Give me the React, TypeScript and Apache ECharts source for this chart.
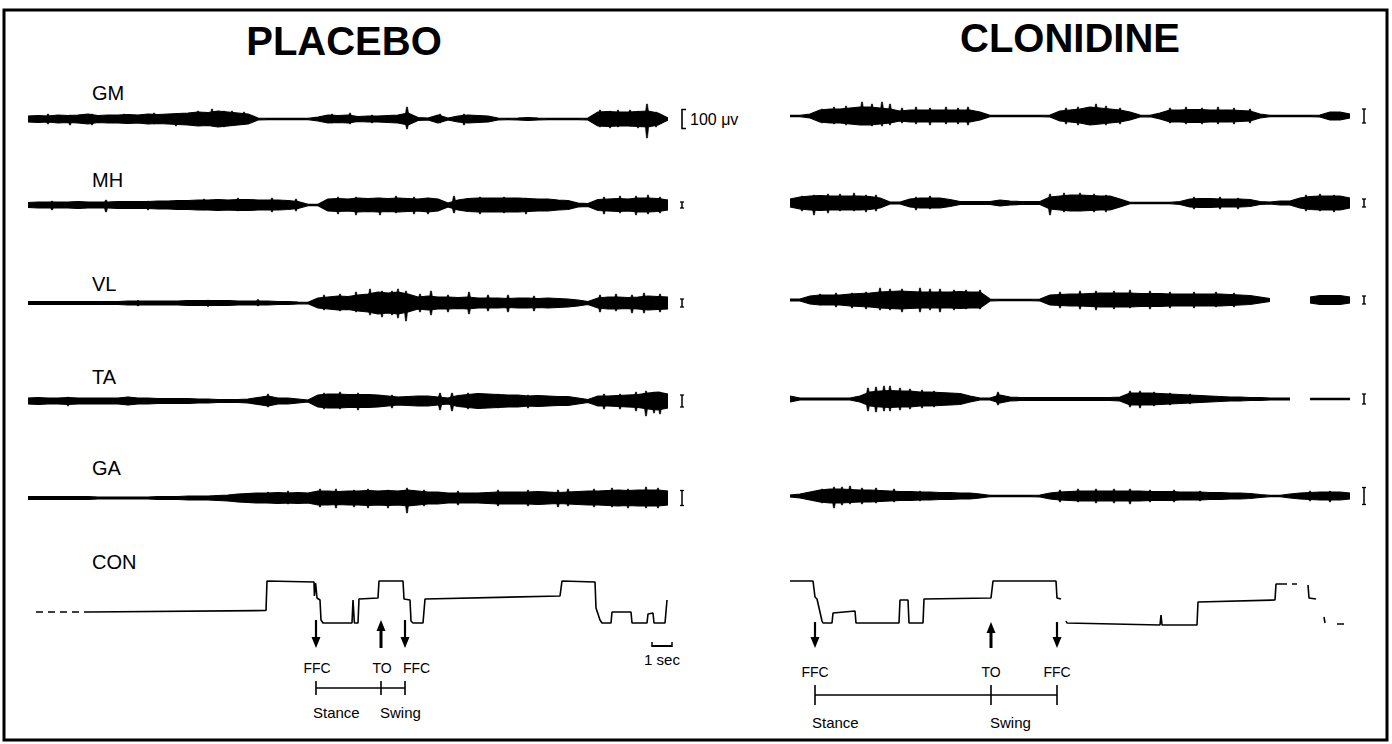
import React, { useEffect, useRef } from "react";
import * as echarts from "echarts";

// ================= DATA =================
// EMG envelopes: half-amplitude (display units), one value every 0.5 s.
const STEP_S = 0.5;
const muscleNames = ["GM", "MH", "VL", "TA", "GA"];

// PLACEBO, 0–32 s
const placeboGM = [3,3.5,3,4,3.5,4,5,3.5,4,4, 4.5,4,5,4.5,5,5.5,6,7,6.5,8, 7,6,5,1,0.6,0.6,0.6,0.6,0.6,2, 4,3.5,4,2.5,3,3,3.5,4,6,1.5, 1,4,1,3,4,3.5,3,1,0.6,1, 1.5,1,0.6,0.6,0.6,0.6,1,7,7.5,7,7,7.5,8,6,1];
const placeboMH = [2.5,3,3,3,3,3.5,3,3,3,3.5, 3.5,3.5,3.5,4,4,4.5,4.5,5,5,5.5, 5,5.5,5.5,5,5,5,4.5,3.5,0.6,0.6, 6,6.5,6,7,6.5,7,6.5,7,6.5,6, 7,6,2,5,6.5,7,7,7,7,7, 6.5,6,6,5,4.5,2,1.5,5.5,6,6.5, 6,7,7,6.5,5];
const placeboVL = [1.5,1.5,1.5,1.5,1.5,1.5,1.5,1.5,1.5,1.5, 2,2,2,2,2,2,2.5,2.5,2.5,2.5, 2.5,2,2,2,2,1.5,1.5,1,0.6,5, 6,7,6.5,8,9,11,10,11,9,6, 7,6,6,5.5,6,5,5,5,4.5,5, 5,4.5,5,4.5,4,3,1.5,5,6,6, 5.5,6,7,6.5,6];
const placeboTA = [3,3.5,3,3,3.5,3,3,3,3,3, 4,3,3,2.5,2.5,2.5,2.5,2,2,1.5, 1.5,1.5,2,3.5,5,3,3,2,1,6, 7,7,6.5,6.5,6.5,6,5,4,4.5,5, 5,4,3,5.5,6.5,7.5,7,6.5,6,6, 5,5.5,5,4.5,4.5,3,1.5,5,5,5.5, 6,6.5,8,9,7];
const placeboGA = [1.5,1.5,1.5,1.5,1.5,1.5,1.5,1,1,1, 1,1,1,1.5,1.5,1.5,2,2,2,2.5, 3,4,4.5,5,5,5.5,5,5.5,5,7, 7,6.5,7,7,7.5,7,7.5,7,8,7, 6,6,5,5,5,5,5.5,6,6,6, 6,6.5,6,5.5,6,6.5,7,7,7.5,8, 7.5,8,8,8,7];

// CLONIDINE, 0–28 s ("-" = trace missing)
const clonidineGM = [0.6,0.6,2,6,7,7,8,9,9,8, 7,5,6,6,6,6,6,6,6,4, 0.6,0.6,0.6,0.6,0.6,0.6,1,5,6,7, 9,8,7,6,4,1,0.6,3,6,6, 6.5,6.5,6,6,6,5.5,5,2,0.6,0.6, 0.6,0.6,0.6,1,4,4,2];
const clonidineMH = [4,6,7,7.5,7,7,7,7,6.5,5, 1,1,4,5,5,5,3.5,1.5,1.5,1.5, 1.5,3,2,1.5,1.5,1.5,6,7,8,8, 7.5,7,7,4,0.6,0.6,0.6,0.6,0.6,1.5, 4,4.5,4.5,4,4,4,3.5,1.5,1,2, 2,5,6.5,7,7,7,5];
const clonidineVL: (number | string)[] = [1,1,4,5,5,5,6,6.5,7,8, 8.5,9,8.5,8,8,8,8,8.5,8,8, 1,0.6,0.6,0.6,0.6,1,5,5.5,6,6, 6.5,7,7,7,7,6.5,6.5,6.5,6,6, 6,6,6,6,5.5,5,4.5,3,1.5,"-", "-","-",3,4.5,4.5,4.5,3];
const clonidineTA: (number | string)[] = [3,1,1,1,1,1,1,3,7,8, 8.5,8,8,7,7,6.5,6,5.5,3,1, 1,4,2,1.5,1.5,1.5,1.5,1.5,1.5,1.5, 1.5,1.5,1.5,2,6,6,6,5.5,5,4.5, 4,3.5,3,2.5,2,2,1.5,1.5,1,1, 1,"-",0.6,0.6,0.6,0.6,0.6];
const clonidineGA = [1,2,4,6,7,7,6.5,6,6,5.5, 5,4.5,4.5,4,4,3.5,3.5,3,3,2, 0.6,0.6,0.6,0.6,0.6,1,3,4,4.5,5, 5,5,5,5,5,5,4.5,4.5,4.5,4, 4,4,3.5,3.5,3,3,2.5,1.5,0.6,0.6, 2,3,3.5,4,4,4,3];

// Spikes: [time s, up, down]
const placeboGMSpikes = [[1.0,5,5],[2.1,4,6],[3.2,5,6],[4.8,5,4],[6.3,6,5],[7.4,5,7],[8.5,8,4],[9.2,10,5],[9.8,8,8],[10.2,8,6],[10.8,7,5],[15.2,5,4],[16.1,6,5],[17.2,4,4],[18.95,12,10],[20.6,5,4],[21.8,5,6],[28.6,9,8],[29.1,8,9],[29.5,9,8],[30.1,9,7],[30.5,8,9],[30.95,15,19],[31.4,7,8]];
const placeboMHSpikes = [[1.2,4,5],[3.9,5,7],[6.0,4,5],[8.8,6,5],[10.5,7,6],[12.2,7,7],[13.4,6,6],[15.5,8,9],[16.4,8,10],[17.6,7,10],[18.4,9,8],[19.3,8,9],[20.0,7,9],[21.3,9,8],[22.6,8,9],[23.8,8,8],[24.9,7,9],[28.8,8,9],[29.6,9,8],[30.4,9,10],[31.0,10,9],[31.6,8,8]];
const placeboVLSpikes = [[5.5,2.5,3],[9.0,3,3.5],[11.5,3.5,3],[14.8,8,7],[15.6,9,8],[16.4,11,9],[17.1,14,12],[17.7,12,14],[18.2,12,12],[18.5,14,15],[18.9,12,18],[19.6,9,9],[20.15,12,12],[21.0,8,9],[22.05,11,11],[23.0,8,8],[24.0,8,9],[25.3,7,8],[28.6,8,9],[29.4,9,8],[30.2,8,10],[30.8,10,10],[31.6,9,9]];
const placeboTASpikes = [[2.0,4,5],[5.0,4,4],[12.0,7,6],[14.8,8,8],[15.6,9,8],[16.5,8,9],[18.2,6,7],[20.6,8,9],[21.2,8,10],[22.0,8,8],[23.5,7,7],[25.0,6,7],[28.8,7,8],[29.6,7,8],[30.4,9,10],[30.9,10,15],[31.3,9,12],[31.6,9,13]];
const placeboGASpikes = [[10.5,3,3],[12.0,6,5],[13.0,7,6],[14.6,9,9],[15.4,9,10],[16.3,8,9],[17.0,9,10],[18.0,8,10],[18.95,10,15],[19.8,8,8],[21.5,7,7],[23.5,8,8],[25.0,8,8],[26.5,8,9],[27.0,9,8],[28.3,9,9],[29.2,10,9],[30.0,9,10],[30.9,11,10],[31.5,10,10]];
const clonidineGMSpikes = [[1.6,7,7],[2.2,9,8],[2.8,10,9],[3.6,14,8],[4.1,12,10],[4.6,14,10],[5.0,12,9],[5.6,8,7],[6.3,9,8],[7.0,8,9],[7.8,9,8],[8.4,8,8],[8.9,9,9],[13.8,8,8],[14.4,9,9],[15.3,12,8],[15.8,10,9],[16.5,8,8],[19.0,8,7],[19.8,9,8],[20.6,8,8],[21.4,9,8],[22.2,8,8],[23.0,7,7]];
const clonidineMHSpikes = [[0.6,7,8],[1.2,8,12],[1.9,9,10],[2.5,9,8],[3.2,10,8],[3.8,8,9],[4.3,8,8],[6.3,6,7],[7.0,7,6],[13.0,9,12],[13.7,10,9],[14.5,10,8],[15.2,9,9],[15.8,8,9],[20.2,6,6],[21.5,6,6],[22.4,5,6],[25.8,8,8],[26.5,9,8],[27.2,8,9]];
const clonidineVLSpikes = [[1.5,6,5],[2.3,7,7],[3.1,7,8],[3.8,8,9],[4.5,12,10],[5.0,11,10],[5.6,11,12],[6.5,12,12],[7.0,11,10],[7.5,11,12],[8.2,10,10],[8.8,10,9],[9.5,10,9],[13.5,8,8],[14.5,9,9],[15.3,9,10],[16.2,9,9],[17.0,10,8],[18.0,9,9],[19.0,8,8],[20.2,8,8],[21.3,8,7],[22.2,7,7]];
const clonidineTASpikes = [[3.9,11,12],[4.3,12,13],[4.7,13,12],[5.0,13,12],[5.5,11,11],[6.0,10,10],[6.6,9,9],[7.2,8,8],[10.4,7,6],[17.0,8,8],[17.5,8,9],[18.2,7,7],[19.0,6,6],[20.0,5,5]];
const clonidineGASpikes = [[1.6,7,7],[2.2,9,12],[2.6,9,9],[3.0,10,8],[3.6,8,8],[4.3,8,7],[5.2,7,6],[6.5,5,5],[13.5,6,6],[14.4,7,6],[15.3,7,7],[16.2,7,7],[17.0,7,8],[18.0,6,6],[19.2,6,6],[20.5,5,5],[26.0,5,5],[27.0,5,6]];

// Calibration bars (full height, display units)
const placeboScaleBars = [19, 6, 8, 12, 15];
const clonidineScaleBars = [14, 8, 8, 10, 17];
const calibrationText = "100 μv";

// Contact (CON) traces: [time s, level]
const placeboConDashed = [[0.4, 11], [3.05, 11]];
const placeboCon: (number | string)[][] = [[3.05,11],[11.9,12.5],[11.95,42],[14.3,41],[14.32,27],[14.38,40],[14.45,25],[14.6,23],[14.65,3],[14.75,0],[16.2,0],[16.25,23],[16.32,0],[16.5,0],[16.55,24],[17.5,25],[17.55,42],[18.75,42],[18.8,24],[19.1,23],[19.15,2],[19.25,0],[19.75,0],[19.85,24],[26.6,27],[26.7,42],[28.35,41],[28.4,15],[28.6,3],[28.7,0],[29.15,0],[29.2,11],[30.15,11],[30.2,0],[30.95,0],[31.0,9],[31.25,10],[31.3,0],[31.85,0],[31.95,23]];
const clonidineCon: (number | string)[][] = [[0,42],[1.15,42],[1.25,26],[1.35,24],[1.6,2],[1.65,0],[2.1,0],[2.15,10],[3.25,12],[3.3,0],[5.45,0],[5.5,23],[5.9,23],[5.95,0],[6.65,0],[6.7,24],[10.05,25],[10.15,42],[13.3,42],[13.35,25],[13.55,24],[13.56,"-"],[13.8,2],[13.85,0],[18.5,-2],[18.55,8],[18.6,-2],[20.35,-2],[20.4,21],[24.25,23],[24.3,39],[24.85,39],[24.86,"-"],[25.1,39],[25.35,39],[25.36,"-"],[25.9,38],[25.95,25],[26.3,24],[26.31,"-"],[26.7,6],[26.75,0],[26.76,"-"],[27.35,-1],[27.7,-1]];

// Gait events (s)
const placeboEventTimes = [14.4, 17.65, 18.85];
const clonidineEventTimes = [1.25, 10.05, 13.35];
const eventNames = ["FFC", "TO", "FFC"];
const phaseNames = ["Stance", "Swing"];
const timeBarSeconds = 1;

// ================= LAYOUT =================
const FONT = '"Liberation Sans", Arial, Helvetica, sans-serif';
const PX_PER_S = 20;

const panels = [
  {
    title: "PLACEBO", titleX: 344, titleY: 41,
    x0: 28, span: 32,
    emg: [placeboGM, placeboMH, placeboVL, placeboTA, placeboGA],
    spikes: [placeboGMSpikes, placeboMHSpikes, placeboVLSpikes, placeboTASpikes, placeboGASpikes],
    bars: placeboScaleBars,
    bases: [119, 205, 303, 401, 498],
    scaleX: 682,
    con: placeboCon, conDashed: placeboConDashed,
    events: placeboEventTimes,
    arrowTop: 620, arrowBot: 648, eventLabelY: 668,
    labelAligns: ["center", "center", "left"], labelOffsets: [1, 1, -2],
    barY: 688, tickHalf: 7, phaseY: 712,
    showLabels: true, showCal: true, secBarStart: 31.2,
  },
  {
    title: "CLONIDINE", titleX: 1070, titleY: 38,
    x0: 790, span: 28,
    emg: [clonidineGM, clonidineMH, clonidineVL, clonidineTA, clonidineGA],
    spikes: [clonidineGMSpikes, clonidineMHSpikes, clonidineVLSpikes, clonidineTASpikes, clonidineGASpikes],
    bars: clonidineScaleBars,
    bases: [116, 203, 300, 399, 496],
    scaleX: 1364,
    con: clonidineCon, conDashed: null as any,
    events: clonidineEventTimes,
    arrowTop: 622, arrowBot: 648, eventLabelY: 672,
    labelAligns: ["center", "center", "center"], labelOffsets: [0, 0, 0],
    barY: 695, tickHalf: 10, phaseY: 722,
    showLabels: false, showCal: false, secBarStart: null as any,
  },
];
const labelX = 92;
const labelYs = [93, 180, 284, 377, 468];
const conLabelY = 562;
const CON_LOW_Y = 623;

function txt(x: number, y: number, text: string, font: string, align = "left") {
  return {
    type: "text", x, y, silent: true,
    style: { text, font, fill: "#000", align, textAlign: align, verticalAlign: "middle", textVerticalAlign: "middle" },
  };
}

function buildOption() {
  const grid: any[] = [];
  const xAxis: any[] = [];
  const yAxis: any[] = [];
  const series: any[] = [];
  const graphic: any[] = [];

  graphic.push({
    type: "rect", silent: true,
    shape: { x: 4, y: 10, width: 1383, height: 730 },
    style: { fill: "none", stroke: "#000", lineWidth: 3 },
  });

  const addGrid = (left: number, top: number, width: number, height: number, xmax: number, ymin: number, ymax: number) => {
    const gi = grid.length;
    grid.push({ left, top, width, height, containLabel: false });
    xAxis.push({ type: "value", gridIndex: gi, min: 0, max: xmax, show: false });
    yAxis.push({ type: "value", gridIndex: gi, min: ymin, max: ymax, show: false });
    return gi;
  };

  panels.forEach((p) => {
    const width = p.span * PX_PER_S;
    graphic.push(txt(p.titleX, p.titleY, p.title, `bold 40px ${FONT}`, "center"));

    p.emg.forEach((amps: any[], k: number) => {
      const base = p.bases[k];
      const gi = addGrid(p.x0, base - 25, width, 50, p.span, -25, 25);
      const upper = amps.map((a, i) => [i * STEP_S, a === "-" ? "-" : a]);
      const lower = amps.map((a, i) => [i * STEP_S, a === "-" ? "-" : -a]);
      const common = {
        type: "line", xAxisIndex: gi, yAxisIndex: gi, showSymbol: false, symbol: "none",
        silent: true, lineStyle: { color: "#000", width: 1.2 },
        areaStyle: { color: "#000", opacity: 1 }, z: 2,
      };
      series.push({ ...common, name: `${p.title} ${muscleNames[k]} +`, data: upper });
      series.push({ ...common, name: `${p.title} ${muscleNames[k]} -`, data: lower });
      series.push({
        type: "custom", xAxisIndex: gi, yAxisIndex: gi, silent: true, clip: false, z: 3,
        data: p.spikes[k],
        renderItem: (params: any, api: any) => {
          const t = api.value(0), up = api.value(1), dn = api.value(2);
          const a = api.coord([t, up]);
          const b = api.coord([t, -dn]);
          const m = api.coord([t, 0]);
          return {
            type: "polygon",
            shape: { points: [[a[0] - 0.5, a[1]], [a[0] + 0.5, a[1]], [m[0] + 2.4, m[1]], [b[0] + 0.5, b[1]], [b[0] - 0.5, b[1]], [m[0] - 2.4, m[1]]] },
            style: { fill: "#000", stroke: "#000", lineWidth: 0.6 },
          };
        },
      });

      // calibration bar
      const h = p.bars[k];
      const x = p.scaleX;
      const y1 = base - h / 2, y2 = base + h / 2;
      if (p.showCal && k === 0) {
        graphic.push({ type: "polyline", silent: true, shape: { points: [[x + 4, y1], [x, y1], [x, y2], [x + 4, y2]] }, style: { stroke: "#000", lineWidth: 1.6, fill: "none" } });
        graphic.push(txt(x + 8, base, calibrationText, `16px ${FONT}`, "left"));
      } else {
        graphic.push({ type: "line", silent: true, shape: { x1: x, y1, x2: x, y2 }, style: { stroke: "#000", lineWidth: 1.5 } });
        graphic.push({ type: "line", silent: true, shape: { x1: x - 2, y1, x2: x + 2, y2: y1 }, style: { stroke: "#000", lineWidth: 1.3 } });
        graphic.push({ type: "line", silent: true, shape: { x1: x - 2, y1: y2, x2: x + 2, y2 }, style: { stroke: "#000", lineWidth: 1.3 } });
      }
      if (p.showLabels) graphic.push(txt(labelX, labelYs[k], muscleNames[k], `20px ${FONT}`, "left"));
    });

    // CON trace grid: level 0 at CON_LOW_Y, 1 unit = 1 px
    const cg = addGrid(p.x0, CON_LOW_Y - 50, width, 60, p.span, -10, 50);
    series.push({
      type: "line", name: `${p.title} CON`, xAxisIndex: cg, yAxisIndex: cg, data: p.con,
      showSymbol: false, symbol: "none", silent: true, clip: false,
      lineStyle: { color: "#000", width: 1.6 },
    });
    if (p.conDashed) {
      series.push({
        type: "line", name: `${p.title} CON start`, xAxisIndex: cg, yAxisIndex: cg, data: p.conDashed,
        showSymbol: false, symbol: "none", silent: true,
        lineStyle: { color: "#000", width: 1.4, type: [7, 5] },
      });
    }
    if (p.showLabels) graphic.push(txt(labelX, conLabelY, "CON", `20px ${FONT}`, "left"));

    // Events: arrows + labels
    series.push({
      type: "custom", xAxisIndex: cg, yAxisIndex: cg, silent: true, clip: false, z: 4,
      data: p.events.map((t) => [t, 0]),
      renderItem: (params: any, api: any) => {
        const i = params.dataIndex;
        const x = api.coord([api.value(0), 0])[0];
        const top = p.arrowTop, bot = p.arrowBot;
        const up = eventNames[i] === "TO";
        const ch: any[] = [];
        if (up) {
          ch.push({ type: "line", shape: { x1: x, y1: top + 8, x2: x, y2: bot }, style: { stroke: "#000", lineWidth: 3 } });
          ch.push({ type: "polygon", shape: { points: [[x - 4.5, top + 11], [x + 4.5, top + 11], [x, top]] }, style: { fill: "#000" } });
        } else {
          ch.push({ type: "line", shape: { x1: x, y1: top, x2: x, y2: bot - 8 }, style: { stroke: "#000", lineWidth: 2.2 } });
          ch.push({ type: "polygon", shape: { points: [[x - 4.5, bot - 11], [x + 4.5, bot - 11], [x, bot]] }, style: { fill: "#000" } });
        }
        const al = p.labelAligns[i];
        ch.push({
          type: "text", x: x + p.labelOffsets[i], y: p.eventLabelY,
          style: { text: eventNames[i], font: `14px ${FONT}`, fill: "#000", align: al, textAlign: al, verticalAlign: "middle", textVerticalAlign: "middle" },
        });
        return { type: "group", children: ch };
      },
    });

    // Stance / swing bar
    series.push({
      type: "custom", xAxisIndex: cg, yAxisIndex: cg, silent: true, clip: false, z: 4,
      data: [p.events],
      renderItem: (params: any, api: any) => {
        const xs = [0, 1, 2].map((d) => api.coord([api.value(d), 0])[0]);
        const y = p.barY, th = p.tickHalf;
        const ch: any[] = [
          { type: "line", shape: { x1: xs[0], y1: y, x2: xs[2], y2: y }, style: { stroke: "#000", lineWidth: 1.6 } },
        ];
        xs.forEach((x) => ch.push({ type: "line", shape: { x1: x, y1: y - th, x2: x, y2: y + th }, style: { stroke: "#000", lineWidth: 1.6 } }));
        ch.push({ type: "text", x: xs[0] - 3, y: p.phaseY, style: { text: phaseNames[0], font: `15px ${FONT}`, fill: "#000", align: "left", textAlign: "left", verticalAlign: "middle", textVerticalAlign: "middle" } });
        ch.push({ type: "text", x: xs[1] - 1, y: p.phaseY, style: { text: phaseNames[1], font: `15px ${FONT}`, fill: "#000", align: "left", textAlign: "left", verticalAlign: "middle", textVerticalAlign: "middle" } });
        return { type: "group", children: ch };
      },
    });

    // 1 s time bar
    if (p.secBarStart != null) {
      series.push({
        type: "custom", xAxisIndex: cg, yAxisIndex: cg, silent: true, clip: false, z: 4,
        data: [[p.secBarStart, p.secBarStart + timeBarSeconds]],
        renderItem: (params: any, api: any) => {
          const a = api.coord([api.value(0), 0])[0];
          const b = api.coord([api.value(1), 0])[0];
          const y = 646;
          return {
            type: "group",
            children: [
              { type: "line", shape: { x1: a, y1: y, x2: b, y2: y }, style: { stroke: "#000", lineWidth: 2 } },
              { type: "line", shape: { x1: a, y1: y - 4, x2: a, y2: y + 1 }, style: { stroke: "#000", lineWidth: 1.5 } },
              { type: "line", shape: { x1: b, y1: y - 4, x2: b, y2: y + 1 }, style: { stroke: "#000", lineWidth: 1.5 } },
              { type: "text", x: (a + b) / 2, y: 659, style: { text: `${timeBarSeconds} sec`, font: `15px ${FONT}`, fill: "#000", align: "center", textAlign: "center", verticalAlign: "middle", textVerticalAlign: "middle" } },
            ],
          };
        },
      });
    }
  });

  return {
    animation: false,
    backgroundColor: "#fff",
    grid, xAxis, yAxis, series, graphic,
  };
}

export default function App() {
  const ref = useRef<HTMLDivElement>(null);
  useEffect(() => {
    if (!ref.current) return;
    const chart = echarts.init(ref.current, undefined, { renderer: "svg" });
    chart.setOption(buildOption() as any);
    return () => chart.dispose();
  }, []);
  return (
    <div
      ref={ref}
      style={{ position: "absolute", left: 0, top: 0, width: 1392, height: 744, background: "#fff" }}
    />
  );
}
